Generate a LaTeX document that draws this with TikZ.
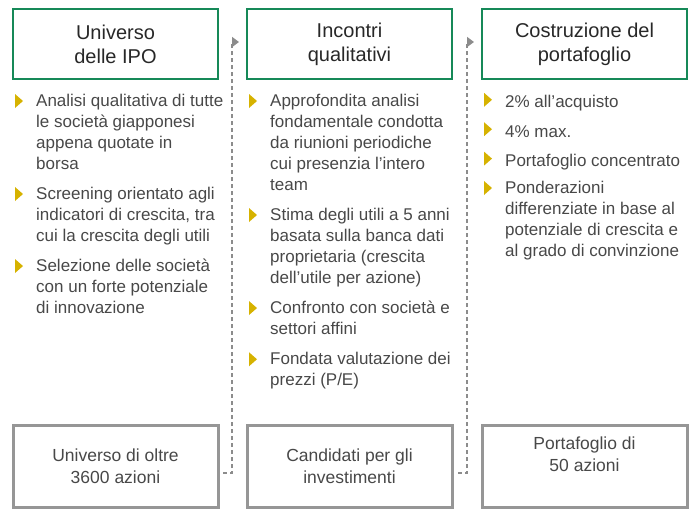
\documentclass[tikz,border=0pt]{standalone}
\usepackage{fontspec}
\setmainfont{Liberation Sans}
\usetikzlibrary{positioning,arrows.meta}

\definecolor{boxgreen}{RGB}{22,137,88}
\definecolor{boxgray}{RGB}{150,150,150}
\definecolor{linegray}{RGB}{140,140,140}
\definecolor{bulletcol}{RGB}{214,178,0}
\definecolor{headtext}{RGB}{40,40,40}
\definecolor{bodytext}{RGB}{72,72,72}

% yellow bullet left of an item
\newcommand{\bulletat}[1]{\fill[bulletcol] ([xshift=-21pt]#1.north west) -- ++(8,7) -- ++(-8,7) -- cycle;}

\begin{document}
\begin{tikzpicture}[
    x=1pt, y=-1pt,
    head/.style={draw=boxgreen, line width=2pt, minimum width=205pt, minimum height=70pt, align=center, text=headtext, font=\fontsize{20}{24}\selectfont},
    result/.style={draw=boxgray, line width=3pt, minimum width=205pt, minimum height=82pt, align=center, text=bodytext, font=\fontsize{17.5}{22}\selectfont},
    item/.style={anchor=north west, inner sep=0pt, align=left, text=bodytext, font=\fontsize{17}{21}\selectfont, execute at begin node=\strut, execute at end node=\strut},
    flow/.style={draw=linegray, line width=1.5pt, dash pattern=on 4pt off 3pt, -{Triangle[length=7pt,width=10pt]}}
]
\useasboundingbox (0,0) rectangle (691,515);

% Headers
\node[head] (h1) at (115.5,44) {Universo\\delle IPO};
\node[head] (h2) at (349.5,44) {Incontri\\qualitativi};
\node[head] (h3) at (584.5,44) {Costruzione del\\portafoglio};

% Column 1
\node[item] (a1) at (36,94) {Analisi qualitativa di tutte\\le società giapponesi\\appena quotate in\\borsa};
\node[item, below=11pt of a1.south west, anchor=north west] (a2) {Screening orientato agli\\indicatori di crescita, tra\\cui la crescita degli utili};
\node[item, below=11pt of a2.south west, anchor=north west] (a3) {Selezione delle società\\con un forte potenziale\\di innovazione};

% Column 2
\node[item] (b1) at (270,94) {Approfondita analisi\\fondamentale condotta\\da riunioni periodiche\\cui presenzia l’intero\\team};
\node[item, below=11pt of b1.south west, anchor=north west] (b2) {Stima degli utili a 5 anni\\basata sulla banca dati\\proprietaria (crescita\\dell’utile per azione)};
\node[item, below=11pt of b2.south west, anchor=north west] (b3) {Confronto con società e\\settori affini};
\node[item, below=11pt of b3.south west, anchor=north west] (b4) {Fondata valutazione dei\\prezzi (P/E)};

% Column 3
\node[item] (c1) at (505,92.8) {2\% all’acquisto};
\node[item, below=8pt of c1.south west, anchor=north west] (c2) {4\% max.};
\node[item, below=8pt of c2.south west, anchor=north west] (c3) {Portafoglio concentrato};
\node[item, below=8pt of c3.south west, anchor=north west] (c4) {Ponderazioni\\differenziate in base al\\potenziale di crescita e\\al grado di convinzione};

% Bullets
\bulletat{a1} \bulletat{a2} \bulletat{a3}
\bulletat{b1} \bulletat{b2} \bulletat{b3} \bulletat{b4}
\bulletat{c1} \bulletat{c2} \bulletat{c3} \bulletat{c4}

% Results
\node[result] (r1) at (115.5,466) {Universo di oltre\\3600 azioni};
\node[result] (r2) at (349.5,466) {Candidati per gli\\investimenti};
\node[result] (r3) at (584.5,466) {};
\node[align=center, text=bodytext, font=\fontsize{17.5}{22}\selectfont] (r3t) at (584.5,454) {Portafoglio di\\50 azioni};

% Flow lines
\coordinate (d1end) at (223,473);
\coordinate (d1top) at (232,42);
\coordinate (d1tip) at (239,42);
\coordinate (d2end) at (458,473);
\coordinate (d2top) at (467,42);
\coordinate (d2tip) at (474,42);
\draw[flow] (d1end) -| (d1top) -- (d1tip);
\draw[flow] (d2end) -| (d2top) -- (d2tip);

\end{tikzpicture}
\end{document}
